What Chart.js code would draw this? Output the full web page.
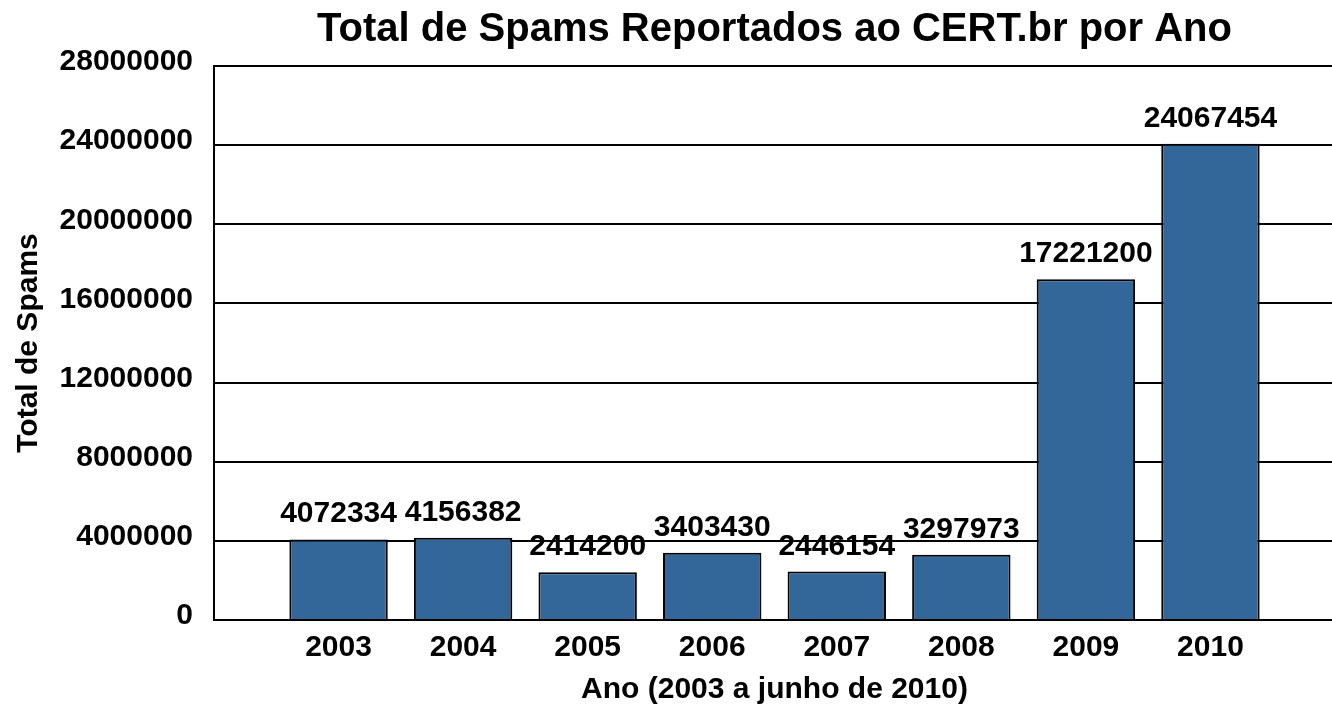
<!DOCTYPE html>
<html><head><meta charset="utf-8">
<script src="https://cdn.jsdelivr.net/npm/chart.js@4"></script>
<style>html,body{margin:0;padding:0;background:#fff;overflow:hidden}
canvas{display:block}</style></head>
<body><canvas id="c" width="1345" height="711" style="width:1345px;height:711px"></canvas>
<script>
const years = ['2003', '2004', '2005', '2006', '2007', '2008', '2009', '2010'];
const spams = [4072334, 4156382, 2414200, 3403430, 2446154, 3297973, 17221200, 24067454];
const yMax = 28000000;
const yStep = 4000000;
const chartTitle = 'Total de Spams Reportados ao CERT.br por Ano';
const xTitle = 'Ano (2003 a junho de 2010)';
const yTitle = 'Total de Spams';

const labels = [''].concat(years, ['']);
const values = [null].concat(spams, [null]);
const FAM = '"Liberation Sans", Arial, sans-serif';

const valueLabels = {
  id: 'valueLabels',
  afterDatasetsDraw(chart) {
    const ctx = chart.ctx;
    const meta = chart.getDatasetMeta(0);
    ctx.save();
    ctx.font = 'bold 30px ' + FAM;
    ctx.fillStyle = '#000';
    ctx.textAlign = 'center';
    ctx.textBaseline = 'alphabetic';
    meta.data.forEach((bar, i) => {
      const v = values[i];
      if (v === null) return;
      ctx.fillText(String(v), bar.x, bar.y - 17);
    });
    ctx.restore();
  }
};

new Chart(document.getElementById('c'), {
  type: 'bar',
  data: {
    labels: labels,
    datasets: [{
      data: values,
      backgroundColor: '#336699',
      borderColor: '#000',
      borderWidth: 2,
      barPercentage: 0.79,
      categoryPercentage: 1
    }]
  },
  options: {
    responsive: false,
    maintainAspectRatio: false,
    devicePixelRatio: 1,
    animation: false,
    layout: { padding: { left: 0, right: 5, top: 0, bottom: 0 } },
    plugins: {
      legend: { display: false },
      tooltip: { enabled: false },
      title: {
        display: true,
        text: chartTitle,
        fullSize: false,
        color: '#000',
        font: { family: FAM, size: 40, weight: 'bold', lineHeight: 1.2 },
        padding: { top: 6, bottom: 12 }
      }
    },
    scales: {
      x: {
        offset: false,
        grid: { display: false, drawTicks: false },
        border: { display: true, color: '#000', width: 2 },
        ticks: {
          autoSkip: false, maxRotation: 0, minRotation: 0,
          color: '#000', padding: 10,
          font: { family: FAM, size: 30, weight: 'bold' }
        },
        title: {
          display: true, text: xTitle, color: '#000',
          font: { family: FAM, size: 30, weight: 'bold', lineHeight: 1.2 },
          padding: { top: 0, bottom: 3 }
        },
        afterFit(s) { s.height = 91; }
      },
      y: {
        min: 0, max: yMax,
        grid: { color: '#000', lineWidth: 2, drawTicks: false },
        border: { display: true, color: '#000', width: 2 },
        ticks: {
          stepSize: yStep, color: '#000', padding: 21, labelOffset: -4,
          font: { family: FAM, size: 30, weight: 'bold' },
          callback: (v) => String(v)
        },
        title: {
          display: true, text: yTitle, color: '#000',
          font: { family: FAM, size: 30, weight: 'bold', lineHeight: 1.2 },
          padding: { top: 11, bottom: 0 }
        },
        afterFit(s) { s.width = 214; }
      }
    }
  },
  plugins: [valueLabels]
});
</script></body></html>
